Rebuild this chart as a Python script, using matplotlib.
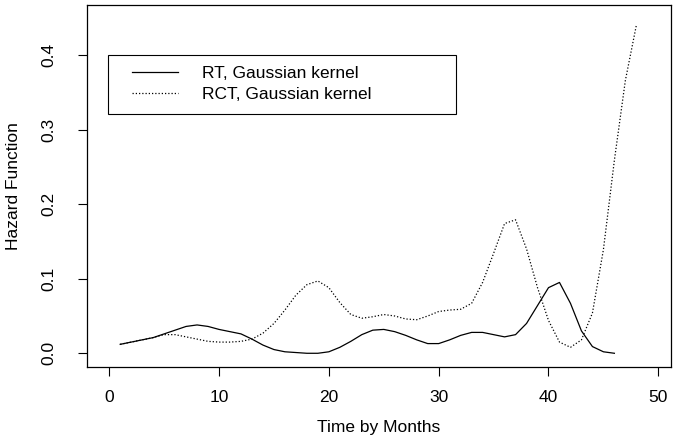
import matplotlib
matplotlib.use("Agg")
import matplotlib.pyplot as plt
from matplotlib.patches import Rectangle

plt.rcParams['font.family'] = ['Liberation Sans', 'DejaVu Sans']

# hazard estimates, one value per month
rt_months = list(range(1, 47))
rt_hazard = [0.012, 0.015, 0.018, 0.021, 0.026, 0.031, 0.036, 0.038, 0.036, 0.032,
             0.029, 0.026, 0.019, 0.011, 0.005, 0.002, 0.001, 0.000, 0.000, 0.002,
             0.008, 0.016, 0.025, 0.031, 0.032, 0.029, 0.024, 0.018, 0.013, 0.013,
             0.018, 0.024, 0.028, 0.028, 0.025, 0.022, 0.025, 0.040, 0.064, 0.088,
             0.095, 0.067, 0.030, 0.009, 0.002, 0.000]

rct_months = list(range(1, 49))
rct_hazard = [0.012, 0.015, 0.018, 0.021, 0.025, 0.025, 0.022, 0.019, 0.016, 0.015,
              0.015, 0.016, 0.019, 0.027, 0.040, 0.058, 0.078, 0.092, 0.097, 0.088,
              0.068, 0.052, 0.047, 0.049, 0.052, 0.050, 0.046, 0.045, 0.050, 0.056,
              0.058, 0.059, 0.067, 0.095, 0.134, 0.174, 0.179, 0.140, 0.088, 0.044,
              0.015, 0.008, 0.018, 0.054, 0.139, 0.259, 0.366, 0.440]

x_ticks = [0, 10, 20, 30, 40, 50]
y_ticks = [0.0, 0.1, 0.2, 0.3, 0.4]

fs = 12.5

fig = plt.figure(figsize=(6.73, 4.41), dpi=100)
ax = fig.add_axes([86.7 / 673, 1 - 366.7 / 441, (671.5 - 86.7) / 673, (366.7 - 4.7) / 441])

ax.plot(rt_months, rt_hazard, color='black', lw=0.9, label='RT, Gaussian kernel')
ax.plot(rct_months, rct_hazard, color='black', lw=0.9, linestyle=(0, (1, 1.6)),
        label='RCT, Gaussian kernel')

ax.set_xlim(-2.05, 51.2)
ax.set_ylim(-0.018, 0.4675)
ax.set_xticks(x_ticks)
ax.set_xticklabels([str(v) for v in x_ticks])
ax.set_yticks(y_ticks)
ax.set_yticklabels([f"{v:.1f}" for v in y_ticks], rotation=90, va='center')
ax.tick_params(direction='out', length=6.5, width=0.8, labelsize=fs, pad=10)
ax.tick_params(axis='y', pad=15)
for s in ax.spines.values():
    s.set_linewidth(0.9)

ax.set_xlabel('Time by Months', fontsize=fs, labelpad=11)
ax.set_ylabel('Hazard Function', fontsize=fs, labelpad=15)

# R-style legend: box drawn separately so the entries can sit inset from it
ax.add_patch(Rectangle((0.0369, 0.698), 0.5946, 0.163, transform=ax.transAxes,
                       fill=False, lw=0.8, edgecolor='black', zorder=3))
leg = ax.legend(loc='upper left', bbox_to_anchor=(0.077, 0.830), frameon=False,
                fontsize=fs, borderpad=0, labelspacing=0.3, handlelength=2.68,
                handletextpad=1.35, borderaxespad=0)

fig.savefig('out.png', dpi=100)
